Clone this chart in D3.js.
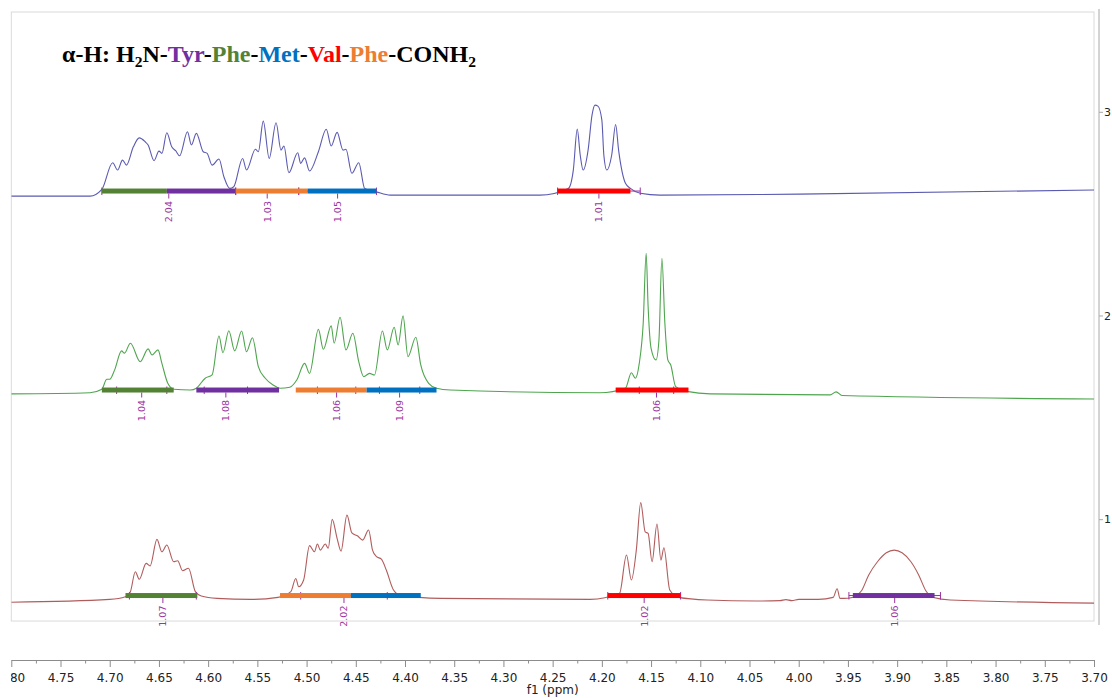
<!DOCTYPE html>
<html>
<head>
<meta charset="utf-8">
<script src="https://cdn.jsdelivr.net/npm/d3@7"></script>
<style>
  html, body { margin: 0; padding: 0; background: #fff; overflow: hidden; }
  svg { display: block; }
</style>
</head>
<body>
<svg id="chart" width="1112" height="698"></svg>
<script>
// ---- Data ---------------------------------------------------------------

// Chemical-shift axis (ppm)
const xMajorTicks = [4.80, 4.75, 4.70, 4.65, 4.60, 4.55, 4.50, 4.45, 4.40, 4.35, 4.30, 4.25,
                     4.20, 4.15, 4.10, 4.05, 4.00, 3.95, 3.90, 3.85, 3.80, 3.75, 3.70];
const xMinorTicks = [4.775, 4.725, 4.675, 4.625, 4.575, 4.525, 4.475, 4.425, 4.375, 4.325, 4.275,
                     4.225, 4.175, 4.125, 4.075, 4.025, 3.975, 3.925, 3.875, 3.825, 3.775, 3.725];
// Stack axis (spectrum number)
const stackTicks = [1, 2, 3];

// Spectra: [ppm, intensity]; intensity in percent of one stack unit
const spectrum1 = [
  [4.800,-0.8],[4.700,0.6],[4.684,1.9],[4.679,4.4],[4.674,14.2],[4.670,10.5],[4.663,18.3],[4.659,17.0],
  [4.652,30.1],[4.647,24.0],[4.642,27.3],[4.635,19.1],[4.631,19.6],[4.626,14.7],[4.620,15.9],[4.613,4.4],
  [4.607,2.3],[4.591,1.1],[4.557,0.6],[4.529,1.6],[4.516,4.4],[4.511,10.9],[4.508,6.8],[4.503,10.1],
  [4.497,27.0],[4.492,24.0],[4.489,27.8],[4.486,24.8],[4.481,27.8],[4.478,25.7],[4.474,39.9],[4.469,30.6],
  [4.465,24.3],[4.459,42.0],[4.454,33.3],[4.448,31.7],[4.443,29.7],[4.437,34.7],[4.433,24.8],[4.429,21.6],
  [4.424,20.4],[4.419,15.0],[4.412,5.5],[4.405,2.7],[4.364,1.1],[4.212,0.6],[4.182,3.6],[4.175,22.4],
  [4.170,10.1],[4.165,24.8],[4.1605,48.1],[4.156,33.8],[4.153,33.0],[4.149,19.1],[4.144,37.6],[4.140,19.9],
  [4.137,26.0],[4.131,5.2],[4.122,1.6],[4.093,0.3],[4.043,-0.2],[4.019,0.0],[4.013,0.5],[4.007,0.0],
  [4.000,0.6],[3.980,0.6],[3.965,1.6],[3.961,5.8],[3.958,1.1],[3.950,1.2],[3.944,1.8],[3.936,5.0],
  [3.929,12.5],[3.920,19.1],[3.911,23.5],[3.903,24.8],[3.895,23.5],[3.886,19.1],[3.878,12.5],[3.871,5.0],
  [3.863,1.5],[3.846,0.3],[3.700,-1.2]
];

const spectrum2 = [
  [4.800,1.5],[4.720,2.1],[4.708,3.8],[4.703,8.7],[4.700,8.7],[4.695,13.3],[4.688,22.6],[4.685,21.5],
  [4.679,26.4],[4.669,17.3],[4.661,23.6],[4.657,20.6],[4.651,23.1],[4.647,16.5],[4.641,6.7],[4.635,3.8],
  [4.618,3.4],[4.612,4.3],[4.603,9.2],[4.596,10.8],[4.589,29.9],[4.585,21.7],[4.579,32.5],[4.573,22.6],
  [4.566,32.4],[4.561,22.2],[4.555,29.1],[4.549,14.9],[4.542,9.2],[4.534,5.9],[4.527,4.3],[4.517,4.8],
  [4.510,8.3],[4.502,16.5],[4.497,11.6],[4.488,33.2],[4.483,23.4],[4.475,34.9],[4.472,26.4],[4.466,39.1],
  [4.460,23.1],[4.453,31.3],[4.447,17.3],[4.442,10.0],[4.436,11.6],[4.431,10.8],[4.423,32.4],[4.418,23.1],
  [4.411,34.2],[4.407,25.5],[4.402,39.8],[4.397,19.8],[4.389,29.3],[4.384,15.7],[4.376,6.7],[4.368,4.3],
  [4.354,3.4],[4.202,2.1],[4.176,4.3],[4.170,11.9],[4.166,9.2],[4.162,16.5],[4.158,36.2],[4.155,70.5],
  [4.153,44.3],[4.150,23.9],[4.145,18.2],[4.142,28.0],[4.139,68.1],[4.136,36.3],[4.133,18.2],[4.130,15.7],
  [4.125,5.1],[4.112,2.6],[4.090,1.5],[3.968,1.0],[3.962,2.5],[3.956,0.7],[3.700,-1.0]
];

const spectrum3 = [
  [4.800,-1.4],[4.720,-1.4],[4.708,1.9],[4.697,15.0],[4.692,11.4],[4.687,16.3],[4.683,13.8],[4.676,22.8],
  [4.670,27.2],[4.664,25.3],[4.661,23.7],[4.655,16.0],[4.650,20.7],[4.647,19.6],[4.642,29.7],[4.637,22.8],
  [4.633,20.9],[4.629,18.4],[4.621,30.2],[4.617,23.7],[4.612,29.4],[4.605,20.4],[4.601,19.6],[4.596,13.8],
  [4.589,16.8],[4.584,8.1],[4.578,2.4],[4.574,3.2],[4.565,17.1],[4.561,11.4],[4.552,21.6],[4.549,20.4],
  [4.544,35.4],[4.538,17.1],[4.531,34.6],[4.526,21.2],[4.523,23.2],[4.518,10.1],[4.509,19.9],[4.506,14.7],
  [4.502,17.4],[4.497,10.9],[4.488,20.4],[4.480,31.4],[4.475,23.2],[4.469,29.9],[4.463,21.2],[4.460,21.6],
  [4.454,9.8],[4.447,15.0],[4.441,2.4],[4.429,0.7],[4.415,-0.9],[4.263,-0.9],[4.234,2.4],[4.229,11.4],
  [4.225,31.5],[4.222,18.8],[4.219,11.4],[4.214,21.2],[4.210,38.4],[4.207,43.3],[4.204,42.8],[4.200,35.9],
  [4.198,18.8],[4.195,11.4],[4.190,18.8],[4.186,33.8],[4.183,21.2],[4.176,4.9],[4.171,2.4],[4.161,0.0],
  [4.141,-0.9],[3.999,-0.4],[3.700,1.6]
];

const spectra = [
  { id: 1, points: spectrum1 },
  { id: 2, points: spectrum2 },
  { id: 3, points: spectrum3 }
];

// Residue assignment bars drawn on each spectrum
const residueBars = [
  { spectrum: 3, from: 4.708, to: 4.642, residue: "Phe1" },
  { spectrum: 3, from: 4.642, to: 4.572, residue: "Tyr" },
  { spectrum: 3, from: 4.572, to: 4.499, residue: "Phe5" },
  { spectrum: 3, from: 4.499, to: 4.429, residue: "Met" },
  { spectrum: 3, from: 4.245, to: 4.171, residue: "Val" },
  { spectrum: 2, from: 4.708, to: 4.635, residue: "Phe1" },
  { spectrum: 2, from: 4.612, to: 4.528, residue: "Tyr" },
  { spectrum: 2, from: 4.511, to: 4.439, residue: "Phe5" },
  { spectrum: 2, from: 4.439, to: 4.368, residue: "Met" },
  { spectrum: 2, from: 4.186, to: 4.112, residue: "Val" },
  { spectrum: 1, from: 4.684, to: 4.611, residue: "Phe1" },
  { spectrum: 1, from: 4.527, to: 4.455, residue: "Phe5" },
  { spectrum: 1, from: 4.455, to: 4.384, residue: "Met" },
  { spectrum: 1, from: 4.194, to: 4.120, residue: "Val" },
  { spectrum: 1, from: 3.945, to: 3.862, residue: "Tyr" }
];

// Integration regions and their values
const integrals = [
  { spectrum: 3, from: 4.708, to: 4.572, value: 2.04 },
  { spectrum: 3, from: 4.572, to: 4.508, value: 1.03 },
  { spectrum: 3, from: 4.508, to: 4.429, value: 1.05 },
  { spectrum: 3, from: 4.245, to: 4.161, value: 1.01 },
  { spectrum: 2, from: 4.693, to: 4.642, value: 1.04 },
  { spectrum: 2, from: 4.604, to: 4.560, value: 1.08 },
  { spectrum: 2, from: 4.489, to: 4.450, value: 1.06 },
  { spectrum: 2, from: 4.426, to: 4.385, value: 1.09 },
  { spectrum: 2, from: 4.162, to: 4.127, value: 1.06 },
  { spectrum: 1, from: 4.680, to: 4.612, value: 1.07 },
  { spectrum: 1, from: 4.506, to: 4.418, value: 2.02 },
  { spectrum: 1, from: 4.194, to: 4.120, value: 1.02 },
  { spectrum: 1, from: 3.949, to: 3.856, value: 1.06 }
];

// Title: peptide sequence
const titleTokens = [
  { text: "α-H: H" }, { text: "2", sub: true }, { text: "N-" },
  { text: "Tyr", residue: "Tyr" }, { text: "-" },
  { text: "Phe", residue: "Phe1" }, { text: "-" },
  { text: "Met", residue: "Met" }, { text: "-" },
  { text: "Val", residue: "Val" }, { text: "-" },
  { text: "Phe", residue: "Phe5" }, { text: "-CONH" }, { text: "2", sub: true }
];

// ---- Styles & layout ----------------------------------------------------

const residueColor = { Tyr: "#7030a0", Phe1: "#548235", Met: "#0070c0", Val: "#ff0000", Phe5: "#ed7d31" };
const traceColor = { 1: "#a94a4a", 2: "#3b9b3b", 3: "#4848a8" };
const integralColor = "#9b33a0";
const axisColor = "#8c8c8c";
const uiFont = "'DejaVu Sans', Verdana, sans-serif";

const frame = { left: 11.3, right: 1094, top: 12, bottom: 621 };
const integralLift = { 1: 2.5, 2: 3.4, 3: 1.1 };   // bar level above baseline (intensity units)

const svg = d3.select("#chart");

// ---- Scales -------------------------------------------------------------

const x = d3.scaleLinear().domain([4.80, 3.70]).range([frame.left, frame.right]);
const yStack = d3.scaleLinear().domain([0.5, 3.49]).range([frame.bottom, frame.top]);
const yOf = (id, v) => yStack(id - 0.4 + v / 100);

// ---- Frame --------------------------------------------------------------

svg.append("rect")
  .attr("x", frame.left).attr("y", frame.top)
  .attr("width", frame.right - frame.left).attr("height", frame.bottom - frame.top)
  .attr("fill", "none").attr("stroke", "#dadada").attr("stroke-width", 1);

svg.append("clipPath").attr("id", "plotClip")
  .append("rect")
  .attr("x", frame.left).attr("y", frame.top)
  .attr("width", frame.right - frame.left).attr("height", frame.bottom - frame.top);

const plot = svg.append("g").attr("clip-path", "url(#plotClip)");

// ---- Spectra ------------------------------------------------------------

spectra.forEach(s => {
  const line = d3.line()
    .x(d => x(d[0]))
    .y(d => yOf(s.id, d[1]))
    .curve(d3.curveMonotoneX);
  plot.append("path")
    .datum(s.points)
    .attr("d", line)
    .attr("fill", "none")
    .attr("stroke", traceColor[s.id])
    .attr("stroke-width", 1.1)
    .attr("stroke-opacity", 0.9)
    .attr("stroke-linejoin", "round");
});

// ---- Integrals ----------------------------------------------------------

const barY = id => yOf(id, integralLift[id]);
const barH = 5;

// integral range lines with end ticks
const rangeG = plot.append("g");
integrals.forEach(d => {
  const y0 = barY(d.spectrum);
  rangeG.append("line")
    .attr("x1", x(d.from)).attr("x2", x(d.to)).attr("y1", y0).attr("y2", y0)
    .attr("stroke", integralColor).attr("stroke-width", 1);
  [d.from, d.to].forEach(p => {
    rangeG.append("line")
      .attr("x1", x(p)).attr("x2", x(p)).attr("y1", y0 - 3.5).attr("y2", y0 + 4)
      .attr("stroke", integralColor).attr("stroke-width", 1);
  });
});

// residue-colored bars
plot.append("g").selectAll("rect")
  .data(residueBars)
  .join("rect")
  .attr("x", d => x(d.from))
  .attr("width", d => x(d.to) - x(d.from))
  .attr("y", d => barY(d.spectrum) - barH / 2)
  .attr("height", barH)
  .attr("fill", d => residueColor[d.residue]);

// value ticks and rotated labels
const labelG = svg.append("g");
integrals.forEach(d => {
  const xc = x((d.from + d.to) / 2);
  const y0 = barY(d.spectrum);
  labelG.append("line")
    .attr("x1", xc).attr("x2", xc).attr("y1", y0 + barH / 2).attr("y2", y0 + 7.5)
    .attr("stroke", integralColor).attr("stroke-width", 1);
  labelG.append("text")
    .attr("transform", `translate(${xc},${y0 + 10}) rotate(-90)`)
    .attr("text-anchor", "end")
    .attr("dy", "0.35em")
    .attr("font-family", uiFont)
    .attr("font-size", 9.5)
    .attr("fill", integralColor)
    .text(d3.format(".2f")(d.value));
});

// ---- Axes ---------------------------------------------------------------

const axisY = 660;

svg.append("clipPath").attr("id", "axisClip")
  .append("rect").attr("x", frame.left - 0.5).attr("y", 0).attr("width", 1200).attr("height", 698);

const xAxisG = svg.append("g")
  .attr("transform", `translate(0,${axisY})`)
  .attr("clip-path", "url(#axisClip)");

xAxisG.append("g")
  .call(d3.axisBottom(x).tickValues(xMinorTicks).tickSize(3.5).tickFormat(""))
  .call(g => g.select(".domain").remove());

xAxisG.append("g")
  .call(d3.axisBottom(x).tickValues(xMajorTicks).tickSize(7).tickSizeOuter(0)
          .tickPadding(6).tickFormat(d3.format(".2f")));

xAxisG.selectAll("path, line").attr("stroke", axisColor);
xAxisG.selectAll("text")
  .attr("font-family", uiFont).attr("font-size", 12).attr("fill", "#222");

svg.append("text")
  .attr("x", (frame.left + frame.right) / 2)
  .attr("y", 694)
  .attr("text-anchor", "middle")
  .attr("font-family", uiFont).attr("font-size", 12).attr("fill", "#222")
  .text("f1 (ppm)");

// stack axis on the right
const rightAxisG = svg.append("g")
  .attr("transform", `translate(${frame.right + 5},0)`)
  .call(d3.axisRight(yStack).tickValues(stackTicks).tickSize(4).tickSizeOuter(0)
          .tickPadding(1).tickFormat(d3.format("d")));
rightAxisG.select(".domain")
  .attr("d", `M0,${frame.top - 3}V${frame.bottom + 4}`);
rightAxisG.selectAll("path, line").attr("stroke", "#a8a8a8");
rightAxisG.selectAll("text")
  .attr("font-family", uiFont).attr("font-size", 11).attr("fill", "#222");

// ---- Title --------------------------------------------------------------

const title = svg.append("text")
  .attr("x", 62).attr("y", 62)
  .attr("font-family", "'Liberation Serif', 'Times New Roman', serif")
  .attr("font-weight", "bold")
  .attr("font-size", 24);

titleTokens.forEach((t, i) => {
  const prevSub = i > 0 && titleTokens[i - 1].sub;
  const ts = title.append("tspan")
    .attr("fill", t.residue ? residueColor[t.residue] : "#000")
    .text(t.text);
  if (t.sub) ts.attr("font-size", 15.5).attr("dy", 5);
  else if (prevSub) ts.attr("dy", -5);
});
</script>
</body>
</html>
